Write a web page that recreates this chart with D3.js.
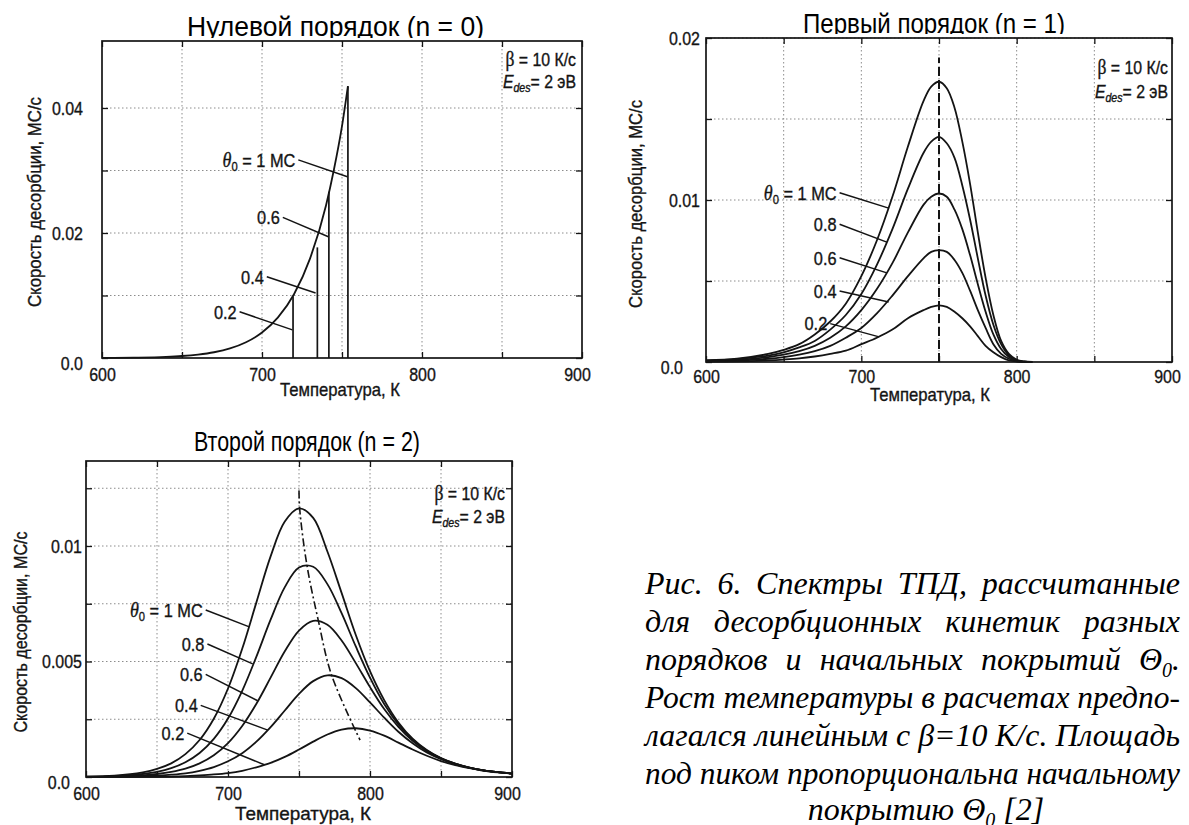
<!DOCTYPE html>
<html>
<head>
<meta charset="utf-8">
<script src="https://cdn.jsdelivr.net/npm/d3@7"></script>
<style>
  body { margin: 0; background: #ffffff; }
  svg { display: block; }
</style>
</head>
<body>
<svg id="fig" width="1189" height="825"></svg>
<script>
// ---------------- data ----------------
const tempTickValues = [600, 650, 700, 750, 800, 850, 900];
const tempTickLabels = ["600", "", "700", "", "800", "", "900"];

// zero order: envelope (θ0 = 1 MC) and the temperatures where each coverage runs out
const zeroT    = [600, 620, 640, 650, 660, 670, 680, 690, 700, 710, 720, 730, 740, 745, 750, 753.7];
const zeroRate = [0.00002, 0.00006, 0.00018, 0.00032, 0.00055, 0.00092, 0.00153, 0.00252, 0.00407,
                  0.00649, 0.0102, 0.0159, 0.0244, 0.0302, 0.0371, 0.0435];
const zeroCutT    = [719.4, 734.6, 741.8, 753.7];
const zeroCutRate = [0.0099, 0.0177, 0.0266, 0.0435];
const zeroLabels  = ["1", "0.6", "0.4", "0.2"];
const zeroLeadFrom = [[722.7, 0.0317], [713.0, 0.0225], [703.0, 0.0130], [686.0, 0.0074]];
const zeroLeadTo   = [[753.4, 0.0290], [741.5, 0.0194], [733.5, 0.0104], [719.0, 0.0045]];

// first order
const firstT = [600, 620, 640, 650, 660, 670, 680, 690, 700, 710, 720, 730, 740, 745, 750, 755, 760, 765,
                770, 775, 780, 785, 790, 795, 800, 805, 810];
const first10 = [0.0001, 0.0002, 0.0005, 0.00075, 0.0011, 0.0017, 0.0025, 0.0036, 0.0053, 0.0075, 0.0102,
                 0.0133, 0.0161, 0.0170, 0.0173, 0.0169, 0.0157, 0.0136, 0.0110, 0.0080, 0.0052, 0.0029,
                 0.0013, 0.0005, 0.00014, 0.00003, 0];
const first08 = [0.0001, 0.00018, 0.0004, 0.0006, 0.0009, 0.0013, 0.0020, 0.0029, 0.0042, 0.0060, 0.0082,
                 0.0107, 0.0129, 0.0136, 0.0139, 0.0135, 0.0126, 0.0109, 0.0088, 0.0064, 0.0041, 0.0023,
                 0.0011, 0.0004, 0.0001, 0.00002, 0];
const first06 = [0.00006, 0.00013, 0.0003, 0.00045, 0.00067, 0.0010, 0.0015, 0.0022, 0.0032, 0.0045, 0.0061,
                 0.0080, 0.0097, 0.0102, 0.0104, 0.0102, 0.0094, 0.0082, 0.0066, 0.0048, 0.0031, 0.0017,
                 0.0008, 0.0003, 0.00008, 0.00002, 0];
const first04 = [0.00004, 0.00009, 0.0002, 0.0003, 0.00045, 0.00067, 0.0010, 0.0015, 0.0021, 0.0030, 0.0041,
                 0.0053, 0.0064, 0.0068, 0.0069, 0.0068, 0.0063, 0.0055, 0.0044, 0.0032, 0.0021, 0.0011,
                 0.0005, 0.0002, 0.00006, 0.00001, 0];
const first02 = [0.00002, 0.00004, 0.0001, 0.00015, 0.00022, 0.00034, 0.0005, 0.0007, 0.0011, 0.0015, 0.0020,
                 0.0027, 0.0032, 0.0034, 0.0035, 0.0034, 0.0031, 0.0027, 0.0022, 0.0016, 0.0010, 0.0006,
                 0.0003, 0.0001, 0.00003, 0.00001, 0];
const firstPeakT = [750, 750];
const firstPeakRate = [0, 0.0188];
const firstLabels = ["1", "0.8", "0.6", "0.4", "0.2"];
const firstLeadFrom = [[686, 0.01045], [686, 0.0085], [686, 0.00644], [686, 0.00438], [680, 0.00237]];
const firstLeadTo   = [[717.6, 0.0095], [716.4, 0.0074], [716.4, 0.0055], [717.6, 0.0037], [711.5, 0.00155]];

// second order
const secondT = [600, 620, 640, 650, 660, 670, 680, 690, 700, 710, 720, 730, 740, 750, 760, 770, 780, 790,
                 800, 810, 820, 830, 840, 850, 860, 870, 880, 890, 900];
const second10 = [0.00002, 0.00006, 0.0002, 0.00035, 0.00059, 0.00099, 0.0016, 0.00252, 0.00383, 0.00555,
                  0.00756, 0.00955, 0.01106, 0.01163, 0.01122, 0.00976, 0.00797, 0.00615, 0.00458, 0.00333,
                  0.00236, 0.00166, 0.00117, 0.00082, 0.00058, 0.00041, 0.00029, 0.00021, 0.00015];
const second08 = [0.00001, 0.00004, 0.00013, 0.00022, 0.00038, 0.00064, 0.00104, 0.00165, 0.00253, 0.00373,
                  0.00521, 0.00681, 0.00822, 0.00907, 0.0091, 0.00835, 0.00709, 0.00565, 0.0043, 0.00316,
                  0.00228, 0.00163, 0.00115, 0.00081, 0.00058, 0.00041, 0.00029, 0.00021, 0.00015];
const second06 = [0.000007, 0.00002, 0.00007, 0.00013, 0.00022, 0.00036, 0.00059, 0.00094, 0.00147, 0.00221,
                  0.00317, 0.0043, 0.00544, 0.00634, 0.00676, 0.00659, 0.00591, 0.00493, 0.00389, 0.00294,
                  0.00217, 0.00157, 0.00112, 0.0008, 0.00057, 0.00041, 0.00029, 0.00021, 0.00015];
const second04 = [0.000003, 0.00001, 0.00003, 0.00006, 0.0001, 0.00016, 0.00027, 0.00043, 0.00068, 0.00103,
                  0.00153, 0.00216, 0.00288, 0.0036, 0.00415, 0.0044, 0.00428, 0.00385, 0.00323, 0.00257,
                  0.00196, 0.00146, 0.00106, 0.00077, 0.00055, 0.0004, 0.00029, 0.00021, 0.00015];
const second02 = [0.000001, 0.000003, 0.00001, 0.00001, 0.00002, 0.00004, 0.00007, 0.00011, 0.00017, 0.00027,
                  0.00042, 0.00061, 0.00087, 0.00119, 0.00153, 0.00184, 0.00205, 0.00211, 0.00201, 0.00179,
                  0.00149, 0.00119, 0.00092, 0.00069, 0.00051, 0.00038, 0.00027, 0.0002, 0.00015];
const secondRidgeT = [750, 750.5, 755.5, 763.5, 773, 793];
const secondRidgeRate = [0.0124, 0.0116, 0.0092, 0.0068, 0.0044, 0.0016];
const secondLabels = ["1", "0.8", "0.6", "0.4", "0.2"];
const secondLeadFrom = [[684.3, 0.00723], [685.5, 0.00576], [684.3, 0.00444], [680.8, 0.0031], [671.3, 0.0019]];
const secondLeadTo   = [[715, 0.0065], [717.4, 0.0049], [720.9, 0.0033], [728, 0.00203], [725.6, 0.00053]];

const captionLines = [
  "Рис. 6. Спектры ТПД, рассчитанные",
  "для десорбционных кинетик разных",
  "порядков и начальных покрытий Θ|0|.",
  "Рост температуры в расчетах предпо-",
  "лагался линейным с β=10 К/с. Площадь",
  "под пиком пропорциональна начальному",
  "покрытию Θ|0| [2]"
];

// ---------------- drawing ----------------
const svg = d3.select("#fig");
const SANS = "'Liberation Sans', Arial, Helvetica, sans-serif";
const SERIF = "'Liberation Serif', 'Times New Roman', serif";
const INK = "#141414";

const zip = (xs, ys) => xs.map((v, i) => [v, ys[i]]);

// squeeze text horizontally (the figure uses a condensed grotesque)
function condense(sel, factor) {
  sel.each(function () {
    const n = this.getComputedTextLength();
    if (n > 0) d3.select(this).attr("textLength", n * factor).attr("lengthAdjust", "spacingAndGlyphs");
  });
}
// heavier strokes, as in the printed figure
const inked = s => s.attr("stroke", INK).attr("stroke-width", 0.35).attr("paint-order", "stroke");

const panels = [
  {
    id: "p0", left: 102, right: 582, top: 41, bottom: 358, yMax: 0.05072,
    yTicks: [0, 0.01, 0.02, 0.03, 0.04], yTickLabels: ["0.0", "", "0.02", "", "0.04"],
    yPad: 19, zeroShift: 0, curve: d3.curveMonotoneX, xPad: 10,
    title: "Нулевой порядок (n = 0)", titleX: 187, titleW: 297, titleBase: 36, titleClip: 38,
    yTitleX: 35, yTitleY: 202, yTitleLen: 210,
    xTitleX: 340, xTitleBase: 396, xTitleLen: 120,
    paramRight: 576, paramBase: [66, 88]
  },
  {
    id: "p1", left: 706, right: 1172, top: 38, bottom: 362, yMax: 0.02,
    yTicks: [0, 0.005, 0.01, 0.015, 0.02], yTickLabels: ["0.0", "", "0.01", "", "0.02"],
    yPad: 6, zeroShift: -17, curve: d3.curveCatmullRom.alpha(0.5), xPad: 8,
    title: "Первый порядок (n = 1)", titleX: 803, titleW: 262, titleBase: 33, titleClip: 34,
    yTitleX: 636, yTitleY: 204, yTitleLen: 208,
    xTitleX: 930, xTitleBase: 401, xTitleLen: 120,
    paramRight: 1168, paramBase: [74, 98]
  },
  {
    id: "p2", left: 86, right: 512, top: 461, bottom: 777, yMax: 0.01368,
    yTicks: [0, 0.0025, 0.005, 0.0075, 0.01, 0.0125], yTickLabels: ["0.0", "", "0.005", "", "0.01", ""],
    yPad: 4, zeroShift: -12, curve: d3.curveCatmullRom.alpha(0.5), xPad: 10,
    title: "Второй порядок (n = 2)", titleX: 194, titleW: 226, titleBase: 451, titleClip: null,
    yTitleX: 21, yTitleY: 632, yTitleLen: 201,
    xTitleX: 303, xTitleBase: 820, xTitleLen: 136,
    paramRight: 505, paramBase: [500, 523]
  }
];

function setupPanel(p) {
  const x = d3.scaleLinear().domain([600, 900]).range([p.left, p.right]);
  const y = d3.scaleLinear().domain([0, p.yMax]).range([p.bottom, p.top]);
  const g = svg.append("g").attr("class", p.id);

  // dotted grid
  g.append("g").selectAll("line").data(tempTickValues.slice(1, -1)).join("line")
    .attr("x1", d => x(d)).attr("x2", d => x(d)).attr("y1", p.top).attr("y2", p.bottom)
    .attr("stroke", "#8c8c8c").attr("stroke-width", 1).attr("stroke-dasharray", "1.5,2.5");
  g.append("g").selectAll("line").data(p.yTicks.slice(1)).join("line")
    .attr("x1", p.left).attr("x2", p.right).attr("y1", d => y(d)).attr("y2", d => y(d))
    .attr("stroke", "#8c8c8c").attr("stroke-width", 1).attr("stroke-dasharray", "1.5,2.5");

  // axes with inward ticks
  const xLab = d => tempTickLabels[tempTickValues.indexOf(d)];
  const yLab = d => p.yTickLabels[p.yTicks.indexOf(d)];
  const styleAxis = a => {
    a.select(".domain").remove();
    a.selectAll(".tick line").attr("stroke", INK).attr("stroke-width", 1.3);
    a.selectAll("text").attr("fill", INK).style("font-family", SANS).style("font-size", "19px")
      .call(inked);
  };
  const xAx = g.append("g").attr("transform", `translate(0,${p.bottom})`)
    .call(d3.axisBottom(x).tickValues(tempTickValues).tickFormat(xLab).tickSize(-6).tickPadding(p.xPad))
    .call(styleAxis);
  xAx.selectAll(".tick").filter(d => d === 900).select("text").attr("x", -5);
  condense(xAx.selectAll("text"), 0.84);
  g.append("g").attr("transform", `translate(0,${p.top})`)
    .call(d3.axisTop(x).tickValues(tempTickValues).tickFormat("").tickSize(-6))
    .call(styleAxis);
  const yAx = g.append("g").attr("transform", `translate(${p.left},0)`)
    .call(d3.axisLeft(y).tickValues(p.yTicks).tickFormat(yLab).tickSize(-6).tickPadding(p.yPad))
    .call(styleAxis);
  yAx.selectAll(".tick").filter(d => d === 0).select("text")
    .attr("x", -p.yPad + p.zeroShift).attr("dy", "0.62em");
  condense(yAx.selectAll("text"), 0.84);
  g.append("g").attr("transform", `translate(${p.right},0)`)
    .call(d3.axisRight(y).tickValues(p.yTicks).tickFormat("").tickSize(-6))
    .call(styleAxis);

  // frame
  g.append("rect").attr("x", p.left).attr("y", p.top)
    .attr("width", p.right - p.left).attr("height", p.bottom - p.top)
    .attr("fill", "none").attr("stroke", INK).attr("stroke-width", 1.7);

  // panel title (descenders of the upper two are clipped by the frame area)
  const title = g.append("text").attr("x", p.titleX).attr("y", p.titleBase)
    .attr("textLength", p.titleW).attr("lengthAdjust", "spacingAndGlyphs")
    .style("font-family", SANS).style("font-size", "28px").attr("fill", "#000")
    .text(p.title);
  if (p.titleClip !== null) {
    svg.append("clipPath").attr("id", p.id + "-tclip")
      .append("rect").attr("x", 0).attr("y", 0).attr("width", 1189).attr("height", p.titleClip);
    title.attr("clip-path", `url(#${p.id}-tclip)`);
  }

  // axis titles
  g.append("text")
    .attr("transform", `translate(${p.yTitleX},${p.yTitleY}) rotate(-90)`)
    .attr("text-anchor", "middle").attr("dy", "0.35em")
    .attr("textLength", p.yTitleLen).attr("lengthAdjust", "spacingAndGlyphs")
    .style("font-family", SANS).style("font-size", "18px").attr("fill", INK)
    .text("Скорость десорбции, МС/с").call(inked);
  g.append("text").attr("x", p.xTitleX).attr("y", p.xTitleBase)
    .attr("text-anchor", "middle")
    .attr("textLength", p.xTitleLen).attr("lengthAdjust", "spacingAndGlyphs")
    .style("font-family", SANS).style("font-size", "19px").attr("fill", INK)
    .text("Температура, К").call(inked);

  // parameters block
  const b = g.append("text").attr("x", p.paramRight).attr("y", p.paramBase[0])
    .attr("text-anchor", "end").style("font-family", SANS).style("font-size", "18px").attr("fill", INK)
    .call(inked);
  b.append("tspan").style("font-family", SERIF).style("font-size", "20px").text("β");
  b.append("tspan").text(" = 10 К/с");
  const e = g.append("text").attr("x", p.paramRight).attr("y", p.paramBase[1])
    .attr("text-anchor", "end").style("font-family", SANS).style("font-size", "18px").attr("fill", INK)
    .call(inked);
  e.append("tspan").style("font-style", "italic").text("E");
  e.append("tspan").attr("dy", 4).style("font-style", "italic").style("font-size", "12px").text("des");
  e.append("tspan").attr("dy", -4).text("= 2 эВ");
  condense(b, 0.88);
  condense(e, 0.88);

  return { g, x, y, curve: p.curve };
}

function drawCurve(ctx, xs, ys, width, dash) {
  const line = d3.line().x(d => ctx.x(d[0])).y(d => ctx.y(d[1])).curve(ctx.curve);
  const path = ctx.g.append("path").datum(zip(xs, ys)).attr("d", line)
    .attr("fill", "none").attr("stroke", INK).attr("stroke-width", width)
    .attr("stroke-linejoin", "round");
  if (dash) path.attr("stroke-dasharray", dash);
  return path;
}

function drawLeaders(ctx, labels, from, to) {
  labels.forEach((lab, i) => {
    const [fx, fy] = from[i], [tx, ty] = to[i];
    ctx.g.append("line")
      .attr("x1", ctx.x(fx)).attr("y1", ctx.y(fy)).attr("x2", ctx.x(tx)).attr("y2", ctx.y(ty))
      .attr("stroke", INK).attr("stroke-width", 1.5);
    const t = ctx.g.append("text").attr("x", ctx.x(fx) - 3).attr("y", ctx.y(fy)).attr("dy", "0.36em")
      .attr("text-anchor", "end").style("font-family", SANS).style("font-size", "19px").attr("fill", INK)
      .call(inked);
    if (i === 0) {
      t.append("tspan").style("font-family", SERIF).style("font-style", "italic").style("font-size", "21px").text("θ");
      t.append("tspan").attr("dy", 4).style("font-size", "13px").text("0");
      t.append("tspan").attr("dy", -4).text(" = " + lab + " МС");
    } else {
      t.text(lab);
    }
    condense(t, 0.86);
  });
}

// zero order
const c0 = setupPanel(panels[0]);
drawCurve(c0, zeroT, zeroRate, 1.8);
zeroCutT.forEach((t, i) => {
  c0.g.append("line").attr("x1", c0.x(t)).attr("x2", c0.x(t))
    .attr("y1", c0.y(0)).attr("y2", c0.y(zeroCutRate[i]))
    .attr("stroke", INK).attr("stroke-width", 1.7);
});
drawLeaders(c0, zeroLabels, zeroLeadFrom, zeroLeadTo);

// first order
const c1 = setupPanel(panels[1]);
[first10, first08, first06, first04, first02].forEach(s => drawCurve(c1, firstT, s, 1.8));
drawCurve(c1, firstPeakT, firstPeakRate, 2, "9,4");
drawLeaders(c1, firstLabels, firstLeadFrom, firstLeadTo);

// second order
const c2 = setupPanel(panels[2]);
[second10, second08, second06, second04, second02].forEach(s => drawCurve(c2, secondT, s, 1.8));
drawCurve(c2, secondRidgeT, secondRidgeRate, 1.6, "8,3,2,3");
drawLeaders(c2, secondLabels, secondLeadFrom, secondLeadTo);

// caption: justified block, last line centred
const capLeft = 645, capRight = 1180, capCenter = 926;
const capBase = [594, 632, 670, 708, 746, 784, 820];
captionLines.forEach((ln, i) => {
  const last = i === captionLines.length - 1;
  const t = svg.append("text").attr("y", capBase[i])
    .attr("x", last ? capCenter : capLeft).attr("text-anchor", last ? "middle" : "start")
    .style("font-family", SERIF).style("font-style", "italic").style("font-size", "32px").attr("fill", "#000");
  ln.split("|").forEach((part, k) => {
    if (k % 2 === 1) {
      t.append("tspan").attr("dy", 7).style("font-size", "20px").text(part);
    } else {
      const s = t.append("tspan").text(part);
      if (k > 0) s.attr("dy", -7);
    }
  });
  if (!last) {
    const target = capRight - capLeft;
    const natural = t.node().getComputedTextLength();
    const gaps = (ln.match(/ /g) || []).length;
    if (natural < target && gaps > 0) {
      t.style("word-spacing", ((target - natural) / gaps) + "px");
    } else if (natural > target) {
      t.attr("textLength", target).attr("lengthAdjust", "spacingAndGlyphs");
    }
  }
});
</script>
</body>
</html>
